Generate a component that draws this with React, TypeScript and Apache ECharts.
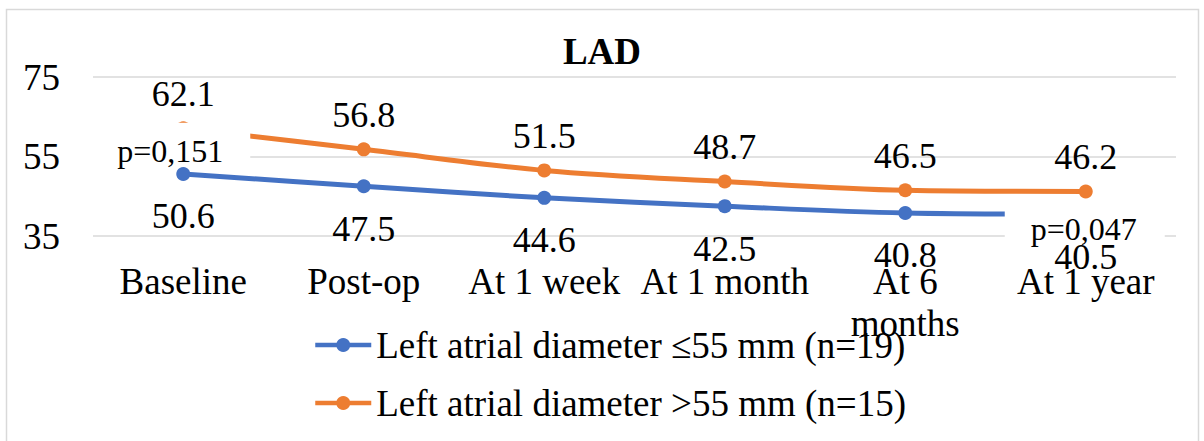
import React, { useEffect, useRef } from "react";
import * as echarts from "echarts";

const categories = ["Baseline", "Post-op", "At 1 week", "At 1 month", "At 6 months", "At 1 year"];
const seriesNames = ["Left atrial diameter \u226455 mm (n=19)", "Left atrial diameter >55 mm (n=15)"];
const smallLA = [50.6, 47.5, 44.6, 42.5, 40.8, 40.5];
const largeLA = [62.1, 56.8, 51.5, 48.7, 46.5, 46.2];
const yTicks = { min: 35, max: 75, interval: 20 };
const pBaseline = "p=0,151";
const pOneYear = "p=0,047";

const FONT = "'Liberation Serif', 'Times New Roman', serif";
const BLUE = "#4472C4";
const ORANGE = "#ED7D31";

export default function App() {
  const ref = useRef<HTMLDivElement>(null);
  useEffect(() => {
    document.body.style.margin = "0";
    if (!ref.current) return;
    const chart = echarts.init(ref.current, null, { renderer: "svg" });
    const dataLabel = (position: string, distance: number) => ({
      show: true,
      position,
      distance,
      color: "#000",
      fontFamily: FONT,
      fontSize: 36,
      lineHeight: 37,
    });
    chart.setOption({
      animation: false,
      backgroundColor: "#fff",
      title: {
        text: "LAD",
        left: "center",
        top: 33,
        padding: 0,
        textStyle: { fontFamily: FONT, fontSize: 37, fontWeight: "bold", color: "#000", lineHeight: 37 },
      },
      legend: {
        orient: "vertical",
        left: 313,
        top: 325,
        padding: 0,
        itemWidth: 56,
        itemHeight: 17.5,
        itemGap: 18,
        lineStyle: { width: 4.5 },
        textStyle: { fontFamily: FONT, fontSize: 37, lineHeight: 40, color: "#000" },
        data: seriesNames,
      },
      grid: { left: 93, right: 28, top: 77, bottom: 205 },
      xAxis: {
        type: "category",
        data: categories,
        boundaryGap: true,
        axisLine: { show: false },
        axisTick: { show: false },
        axisLabel: {
          interval: 0,
          margin: 24,
          color: "#000",
          fontFamily: FONT,
          fontSize: 37,
          lineHeight: 42,
          formatter: (v: string) => (v === categories[4] ? "At 6\nmonths" : v),
        },
      },
      yAxis: {
        type: "value",
        min: yTicks.min,
        max: yTicks.max,
        interval: yTicks.interval,
        axisLine: { show: false },
        axisTick: { show: false },
        splitLine: { lineStyle: { color: "#d9d9d9", width: 1.5 } },
        axisLabel: { margin: 33, color: "#000", fontFamily: FONT, fontSize: 37 },
      },
      series: [
        {
          name: seriesNames[0],
          type: "line",
          data: smallLA,
          smooth: 0.35,
          symbol: "circle",
          symbolSize: 14,
          color: BLUE,
          lineStyle: { width: 5, color: BLUE },
          itemStyle: { color: BLUE },
          label: dataLabel("bottom", 17),
        },
        {
          name: seriesNames[1],
          type: "line",
          data: largeLA,
          smooth: 0.35,
          symbol: "circle",
          symbolSize: 14,
          color: ORANGE,
          lineStyle: { width: 5, color: ORANGE },
          itemStyle: { color: ORANGE },
          label: dataLabel("top", 9),
        },
      ],
    });

    // p-value callouts anchored to data points (white boxes that cover the line as in the source)
    const a = chart.convertToPixel({ seriesIndex: 1 }, [0, largeLA[0]]) as number[];
    const b = chart.convertToPixel({ seriesIndex: 0 }, [5, smallLA[5]]) as number[];
    const pFont = { fontFamily: FONT, fontSize: 32, fill: "#000" };
    chart.setOption({
      graphic: [
        {
          id: "border",
          type: "rect",
          shape: { x: 6.5, y: 9.5, width: 1192, height: 445 },
          style: { fill: "none", stroke: "#d9d9d9", lineWidth: 1.5 },
          silent: true,
          z: -1,
        },
        {
          id: "pbox1",
          type: "rect",
          shape: { x: a[0] - 93, y: a[1] - 5.5, width: 160, height: 44 },
          style: { fill: "#fff" },
          z: 100,
        },
        {
          id: "ptext1",
          type: "text",
          x: a[0] - 13,
          y: a[1] + 23,
          style: { text: pBaseline, align: "center", verticalAlign: "middle", ...pFont },
          z: 101,
        },
        {
          id: "pbox2",
          type: "rect",
          shape: { x: b[0] - 81, y: b[1] - 9, width: 160, height: 38 },
          style: { fill: "#fff" },
          z: 100,
        },
        {
          id: "ptext2",
          type: "text",
          x: b[0] - 2,
          y: b[1] + 14.5,
          style: { text: pOneYear, align: "center", verticalAlign: "middle", ...pFont },
          z: 101,
        },
      ],
    });
    return () => chart.dispose();
  }, []);
  return <div ref={ref} style={{ width: 1204, height: 441 }} />;
}
